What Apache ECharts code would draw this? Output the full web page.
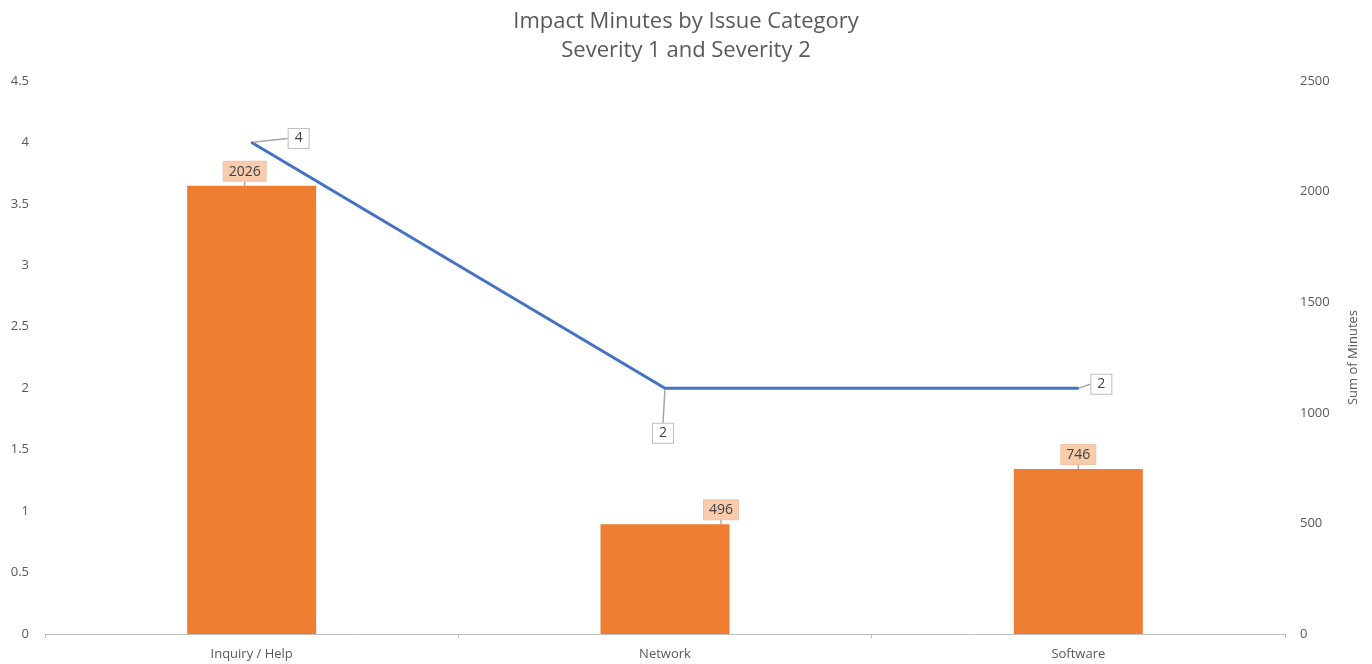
<!DOCTYPE html>
<html>
<head>
<meta charset="utf-8">
<script src="https://cdn.jsdelivr.net/npm/echarts@6/dist/echarts.min.js"></script>
<style>
  html,body{margin:0;padding:0;background:#fff;}
  #chart{width:1372px;height:664px;}
</style>
</head>
<body>
<div id="chart"></div>
<script>
    // data
    var categories = ['Inquiry / Help', 'Network', 'Software'];
    var minutes = [2026, 496, 746];
    var counts = [4, 2, 2];
    var leftTicks = {min: 0, max: 4.5, interval: 0.5};
    var rightTicks = {min: 0, max: 2500, interval: 500};

    // label nudges (so the leader lines show like in the original)
    var lineLabelShift = [[30, -4], [-19, 45], [6, -4]];
    var barLabelShift = [[-7, 0], [56, 0], [0, 0]];

    var myChart = echarts.init(document.getElementById('chart'));
    var axisFont = {color: '#595959', fontSize: 13, fontFamily: 'Open Sans'};

    option = {
        animation: false,
        backgroundColor: '#fff',
        title: {
            text: 'Impact Minutes by Issue Category\nSeverity 1 and Severity 2',
            left: 'center',
            top: 2,
            textStyle: {
                color: '#595959',
                fontSize: 22,
                fontWeight: 'normal',
                fontFamily: 'Open Sans',
                lineHeight: 29
            }
        },
        grid: {
            left: 45,
            right: 87,
            top: 81,
            bottom: 30
        },
        xAxis: {
            type: 'category',
            data: categories,
            axisLine: {lineStyle: {color: '#bfbfbf', width: 1}},
            axisTick: {show: true, length: 4, lineStyle: {color: '#bfbfbf'}},
            axisLabel: {color: '#595959', fontSize: 13, fontFamily: 'Open Sans', margin: 14}
        },
        yAxis: [
            {
                type: 'value',
                min: leftTicks.min,
                max: leftTicks.max,
                interval: leftTicks.interval,
                axisLine: {show: false},
                axisTick: {show: false},
                splitLine: {show: false},
                axisLabel: Object.assign({margin: 16}, axisFont)
            },
            {
                type: 'value',
                position: 'right',
                min: rightTicks.min,
                max: rightTicks.max,
                interval: rightTicks.interval,
                name: 'Sum of Minutes',
                nameLocation: 'middle',
                nameRotate: 90,
                nameGap: 62,
                nameTextStyle: {color: '#595959', fontSize: 13, fontFamily: 'Open Sans'},
                axisLine: {show: false},
                axisTick: {show: false},
                splitLine: {show: false},
                axisLabel: Object.assign({
                    margin: 15,
                    formatter: function (v) { return String(v); }
                }, axisFont)
            }
        ],
        series: [
            {
                type: 'bar',
                yAxisIndex: 1,
                data: minutes,
                barWidth: 129,
                itemStyle: {color: '#ED7D31'},
                label: {
                    show: true,
                    position: 'top',
                    distance: 5,
                    color: '#404040',
                    fontSize: 14,
                    fontFamily: 'Open Sans',
                    backgroundColor: '#F8CBAD',
                    borderColor: '#f4c3a3',
                    borderWidth: 1,
                    padding: [3, 5, 2, 5]
                },
                labelLine: {show: true, lineStyle: {color: '#a6a6a6', width: 1.5}},
                labelLayout: function (params) {
                    var s = barLabelShift[params.dataIndex];
                    return {dx: s[0], dy: s[1]};
                },
                z: 2
            },
            {
                type: 'line',
                yAxisIndex: 0,
                data: counts,
                symbol: 'circle',
                symbolSize: 2,
                showSymbol: true,
                itemStyle: {color: '#4472C4'},
                lineStyle: {color: '#4472C4', width: 3},
                label: {
                    show: true,
                    position: 'right',
                    distance: 6,
                    color: '#404040',
                    fontSize: 14,
                    fontFamily: 'Open Sans',
                    backgroundColor: '#fff',
                    borderColor: '#bfbfbf',
                    borderWidth: 1,
                    padding: [3, 6, 2, 6]
                },
                labelLine: {show: true, lineStyle: {color: '#a6a6a6', width: 1.5}},
                labelLayout: function (params) {
                    var s = lineLabelShift[params.dataIndex];
                    return {dx: s[0], dy: s[1]};
                },
                z: 3
            }
        ]
    };

    myChart.setOption(option);
</script>
</body>
</html>
